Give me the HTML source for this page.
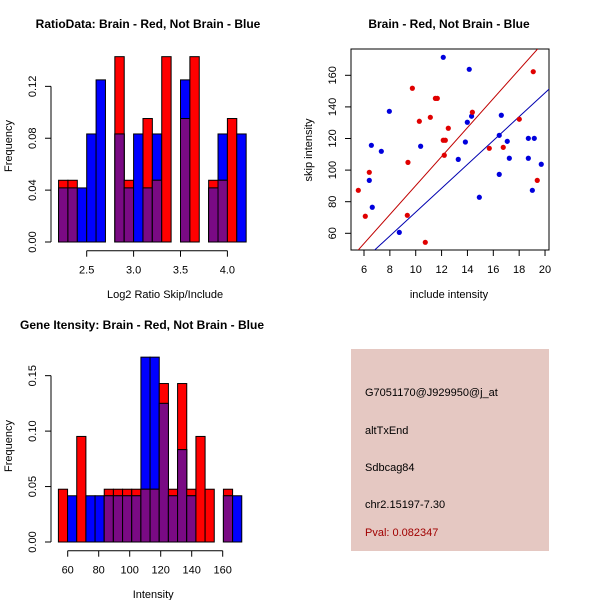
<!DOCTYPE html>
<html><head><meta charset="utf-8"><style>
body{margin:0;background:#fff}
svg{display:block;font-family:"Liberation Sans",sans-serif}
</style></head><body>
<svg id="c" width="600" height="600" viewBox="0 0 600 600">
<rect width="600" height="600" fill="#fff"/>
<rect x="351" y="349" width="198" height="202" fill="#e5c8c2"/>
<g font-size="11" fill="#000">
<text x="365" y="396">G7051170@J929950@j_at</text>
<text x="365" y="434">altTxEnd</text>
<text x="365" y="471">Sdbcag84</text>
<text x="365" y="508">chr2.15197-7.30</text>
<text x="365" y="536" fill="#a00000">Pval: 0.082347</text>
</g>
<text x="148" y="28" font-size="12" font-weight="bold" text-anchor="middle">RatioData: Brain - Red, Not Brain - Blue</text>
<text x="449" y="28" font-size="12" font-weight="bold" text-anchor="middle">Brain - Red, Not Brain - Blue</text>
<text x="142" y="329" font-size="12" font-weight="bold" text-anchor="middle">Gene Itensity: Brain - Red, Not Brain - Blue</text>
</svg>
<script>
// Ratio histogram data (frequencies, 20 bins of 0.1 from 2.2)
const ratioBinStart = 2.2, ratioBinWidth = 0.1;
const ratioRed  = [0.0476,0.0476,0,0,0,0,0.1429,0.0476,0,0.0952,0.0476,0.1429,0,0.0952,0.1429,0,0.0476,0.0476,0.0952,0];
const ratioBlue = [0.0417,0.0417,0.0417,0.0833,0.125,0,0.0833,0.0417,0.0833,0.0417,0.0833,0,0,0.125,0,0,0.0417,0.0833,0,0.0833];
const ratioXTicks = [2.5,3.0,3.5,4.0];
const ratioYTicks = [0,0.04,0.08,0.12];
// Intensity histogram data (20 bins)
const intBinStart = 54, intBinWidth = 5.915;
const intRed  = [0.0476,0,0.0952,0,0,0.0476,0.0476,0.0476,0.0476,0.0476,0.0476,0.1429,0.0476,0.1429,0.0476,0.0952,0.0476,0,0.0476,0];
const intBlue = [0,0.0417,0,0.0417,0.0417,0.0417,0.0417,0.0417,0.0417,0.1667,0.1667,0.125,0.0417,0.0833,0.0417,0,0,0,0.0417,0.0417];
const intXTicks = [60,80,100,120,140,160];
const intYTicks = [0,0.05,0.10,0.15];
// Scatter data
const redX = [9.74,11.52,11.67,10.28,11.13,14.38,12.52,12.13,12.29,12.21,9.40,6.41,5.56,6.10,9.35,10.74,15.69,16.77,18.01,19.09,19.40];
const redY = [151.8,145.4,145.4,130.9,133.4,136.6,126.5,118.9,118.9,109.4,104.9,98.6,87.2,70.8,71.4,54.3,113.8,114.4,132.2,162.3,93.5];
const blueX = [12.13,14.14,7.96,14.32,13.99,16.62,6.57,7.34,10.38,13.84,13.29,16.46,17.08,17.24,18.71,19.17,18.71,19.71,6.41,16.46,14.92,19.02,6.64,8.73];
const blueY = [171.4,163.8,137.2,134.1,130.3,134.7,115.7,111.9,115.1,117.8,106.8,122.0,118.2,107.5,120.1,120.1,107.5,103.7,93.5,97.3,82.8,87.2,76.5,60.6];
const redLine = [-1.5, 9.17];   // intercept, slope
const blueLine = [-2.1, 7.55];
const sXTicks = [6,8,10,12,14,16,18,20];
const sYTicks = [60,80,100,120,140,160];

const NS = "http://www.w3.org/2000/svg";
const svg = document.getElementById('c');
function el(tag, attrs, parent){const e=document.createElementNS(NS,tag);for(const k in attrs)e.setAttribute(k,attrs[k]);(parent||svg).appendChild(e);return e;}
function fmt(v,d){return v.toFixed(d);}

function histogram(name, red, blue, start, width, sx, sy, xt, yt, xdec, ydec, axY, xLbl, xLblY, ylabelX){
  const g = el('g',{});
  
  
  function bar(i, v, color, nm){
    if(v<=0) return;
    const x0=sx(start+i*width), x1=sx(start+(i+1)*width);
    const r = el('rect',{x:x0,y:sy(v),width:x1-x0,height:sy(0)-sy(v),fill:color,stroke:'#000','stroke-width':1},g);
    
    
  }
  for(let i=0;i<red.length;i++){
    if(blue[i]>=red[i]){ bar(i,blue[i],'#0000ff','bar-blue'); bar(i,red[i],'#ff0000','bar-red'); }
    else { bar(i,red[i],'#ff0000','bar-red'); bar(i,blue[i],'#0000ff','bar-blue'); }
    bar(i,Math.min(red[i],blue[i]),'#7a0a84','bar-overlap');
  }
  // y axis
  const ya = el('g',{stroke:'#000'},g);
  
  
  el('line',{x1:51,x2:51,y1:sy(yt[0]),y2:sy(yt[yt.length-1]) },ya);
  yt.forEach(v=>{
    el('line',{x1:45,x2:51,y1:sy(v),y2:sy(v)},ya);
    const t=el('text',{x:0,y:0,'font-size':11,'text-anchor':'middle',stroke:'none',fill:'#000',transform:`translate(36,${sy(v)}) rotate(-90)`},ya);
    t.textContent=fmt(v,ydec);
    
    
  });
  const xa = el('g',{stroke:'#000'},g);
  
  
  el('line',{x1:sx(xt[0]),x2:sx(xt[xt.length-1]),y1:axY,y2:axY},xa);
  xt.forEach(v=>{
    el('line',{x1:sx(v),x2:sx(v),y1:axY,y2:axY+6},xa);
    const t=el('text',{x:sx(v),y:axY+23,'font-size':11,'text-anchor':'middle',stroke:'none',fill:'#000'},xa);
    t.textContent=fmt(v,xdec);
    
    
  });
  const xl=el('text',{x:(sx(xt[0])+sx(xt[xt.length-1]))/2+8,y:xLblY,'font-size':11,'text-anchor':'middle'},g);
  xl.textContent=xLbl;
  
  
  const ylab=el('text',{x:0,y:0,'font-size':11,'text-anchor':'middle',transform:`translate(12,${ylabelX}) rotate(-90)`},g);
  ylab.textContent='Frequency';
  
  
}

// Ratio histogram
const rsx = v => 86.7 + (v-2.5)*93.8;
const rsy = v => 242 - v*1297;
histogram('ratio-histogram', ratioRed, ratioBlue, ratioBinStart, ratioBinWidth, rsx, rsy, ratioXTicks, ratioYTicks, 1, 2, 250.7, 'Log2 Ratio Skip/Include', 298, 146);

// Intensity histogram
const isx = v => 67.7 + (v-60)*1.55;
const isy = v => 542 - v*1108.9;
histogram('intensity-histogram', intRed, intBlue, intBinStart, intBinWidth, isx, isy, intXTicks, intYTicks, 0, 2, 550.7, 'Intensity', 598, 446);

// Scatter
const ssx = v => 364 + (v-6)*12.93;
const ssy = v => 233.3 - (v-60)*1.58;
const sg = el('g',{});


const defs = el('defs',{},sg);
const cp = el('clipPath',{id:'sclip'},defs);
el('rect',{x:351,y:49,width:198,height:201},cp);
const fr = el('rect',{x:351,y:49,width:198,height:201,fill:'none',stroke:'#000'},sg);


function regLine(p,color,nm){
  const x0=4, x1=22;
  const l=el('line',{x1:ssx(x0),y1:ssy(p[0]+p[1]*x0),x2:ssx(x1),y2:ssy(p[0]+p[1]*x1),stroke:color,'stroke-width':1,'clip-path':'url(#sclip)'},sg);
  
  
}
regLine(redLine,'#c00000','red-fit-line');
regLine(blueLine,'#0000b0','blue-fit-line');
blueX.forEach((x,i)=>{
  const c=el('circle',{cx:ssx(x),cy:ssy(blueY[i]),r:2.6,fill:'#0000dd'},sg);
  
  
});
redX.forEach((x,i)=>{
  const c=el('circle',{cx:ssx(x),cy:ssy(redY[i]),r:2.6,fill:'#e00000'},sg);
  
  
});
sXTicks.forEach(v=>{
  el('line',{x1:ssx(v),x2:ssx(v),y1:250,y2:256,stroke:'#000'},sg);
  const t=el('text',{x:ssx(v),y:273,'font-size':11,'text-anchor':'middle'},sg);
  t.textContent=v;
  
  
});
sYTicks.forEach(v=>{
  el('line',{x1:345,x2:351,y1:ssy(v),y2:ssy(v),stroke:'#000'},sg);
  const t=el('text',{x:0,y:0,'font-size':11,'text-anchor':'middle',transform:`translate(336,${ssy(v)}) rotate(-90)`},sg);
  t.textContent=v;
  
  
});
const sxl=el('text',{x:449,y:298,'font-size':11,'text-anchor':'middle'},sg);
sxl.textContent='include intensity';


const syl=el('text',{x:0,y:0,'font-size':11,'text-anchor':'middle',transform:'translate(312,150) rotate(-90)'},sg);
syl.textContent='skip intensity';


</script>
</body></html>
